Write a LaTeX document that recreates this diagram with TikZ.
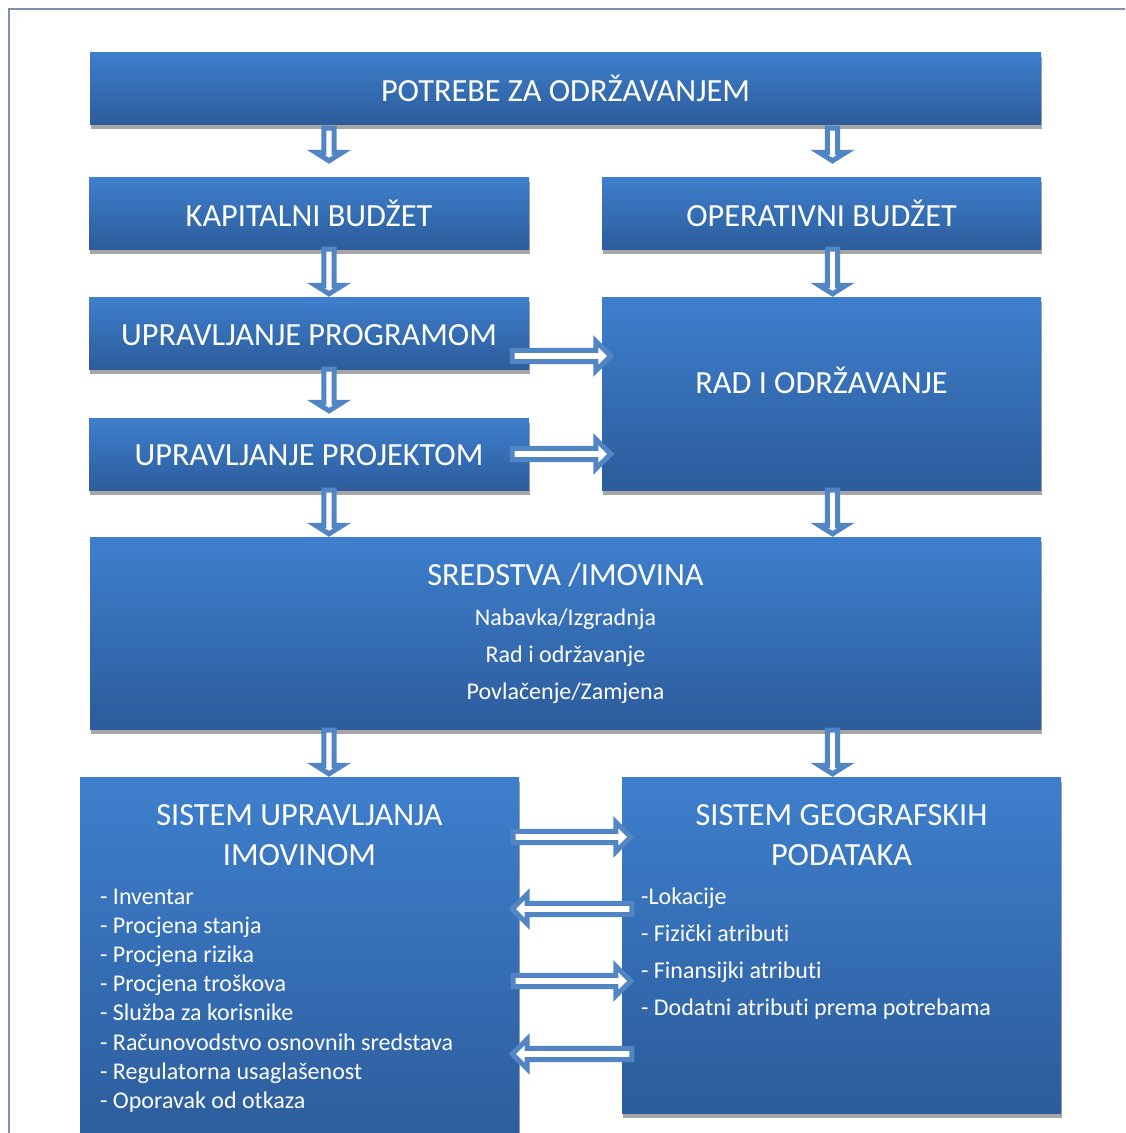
\documentclass[tikz,border=0pt]{standalone}
\usepackage{fontspec}
\setmainfont{Carlito}[RawFeature={-liga;-clig;-calt;-dlig}]
\usetikzlibrary{calc}
\definecolor{boxtop}{RGB}{62,127,205}
\definecolor{boxbot}{RGB}{44,92,155}
\definecolor{shadowgray}{RGB}{166,166,166}
\definecolor{arrowblue}{RGB}{82,133,196}
\definecolor{framegray}{RGB}{128,143,168}
\def\BAw{5.2pt}\def\BAH{13.5pt}\def\BAh{8.5pt}
\begin{document}
\begin{tikzpicture}[x=1pt, y=-1pt,
  box/.style={rectangle, draw=none, inner sep=0pt, top color=boxtop, bottom color=boxbot,
    preaction={fill=shadowgray, transform canvas={xshift=1pt, yshift=-5pt}}},
  ttl/.style={text=white, inner sep=0pt, font=\fontsize{32.3}{38}\selectfont, anchor=base},
  sub/.style={text=white, inner sep=0pt, font=\fontsize{24}{29}\selectfont, anchor=base},
  itm/.style={sub, anchor=base west},
  vhead/.code={\def\BAw{5.2pt}\def\BAH{13.5pt}\def\BAh{8.5pt}},
  hhead/.code={\def\BAw{5.6pt}\def\BAH{14.8pt}\def\BAh{15pt}},
  barrow/.style 2 args={draw=arrowblue, line width=5pt, fill=white, line join=miter,
    to path={
      ($(\tikztostart)!#1!(\tikztotarget)$) coordinate (baS)
      ($(\tikztotarget)!#2!(\tikztostart)$) coordinate (baT)
      ($(baT)!\BAh!(baS)$) coordinate (baB)
      ($(baS)!\BAw!90:(baT)$) -- ($(baB)!\BAw!-90:(baS)$) -- ($(baB)!\BAH!-90:(baS)$)
      -- (baT) -- ($(baB)!\BAH!90:(baS)$) -- ($(baB)!\BAw!90:(baS)$)
      -- ($(baS)!\BAw!-90:(baT)$) -- cycle}}]
\useasboundingbox (0,0) rectangle (1125,1133);
\clip (0,0) rectangle (1125,1133);
\fill[white] (0,0) rectangle (1125,1133);
\draw[framegray, line width=2pt] (8.5,1140) -- (8.5,8.5) -- (1130,8.5);

% boxes
\node[box, minimum width=951pt, minimum height=72pt] (top) at (565.5,88) {};
\node[box, minimum width=440pt, minimum height=72pt] (kap) at (309,213) {};
\node[box, minimum width=439pt, minimum height=72pt] (oper) at (821.5,213) {};
\node[box, minimum width=440pt, minimum height=72pt] (prog) at (309,333) {};
\node[box, minimum width=439pt, minimum height=193pt] (rad) at (821.5,393.5) {};
\node[box, minimum width=440pt, minimum height=72pt] (proj) at (309,454) {};
\node[box, minimum width=951pt, minimum height=192pt] (sred) at (565.5,633) {};
\node[box, minimum width=439pt, minimum height=373pt] (sum) at (299.5,963.5) {};
\node[box, minimum width=439pt, minimum height=336pt] (sgp) at (841.5,945) {};

% texts
\node[ttl] (t0) at (565.5,101) {POTREBE ZA ODRŽAVANJEM};
\node[ttl] (t1) at (309,226) {KAPITALNI BUDŽET};
\node[ttl] (t2) at (821.5,226) {OPERATIVNI BUDŽET};
\node[ttl] (t3) at (309,345) {UPRAVLJANJE PROGRAMOM};
\node[ttl] (t4) at (821.5,393) {RAD I ODRŽAVANJE};
\node[ttl] (t5) at (309,465) {UPRAVLJANJE PROJEKTOM};
\node[ttl] (t6) at (565.5,585) {SREDSTVA /IMOVINA};
\node[sub] (s1) at (565.5,625) {Nabavka/Izgradnja};
\node[sub] (s2) at (565.5,662) {Rad i održavanje};
\node[sub] (s3) at (565.5,699) {Povlačenje/Zamjena};
\node[ttl] (t7) at (299.5,825) {SISTEM UPRAVLJANJA};
\node[ttl] (t8) at (299.5,865) {IMOVINOM};
\node[ttl] (t9) at (841.5,825) {SISTEM GEOGRAFSKIH};
\node[ttl] (t10) at (841.5,865) {PODATAKA};
\node[itm] (l1) at (100,904) {- Inventar};
\node[itm] (l2) at (100,933.2) {- Procjena stanja};
\node[itm] (l3) at (100,962.4) {- Procjena rizika};
\node[itm] (l4) at (100,991.6) {- Procjena troškova};
\node[itm] (l5) at (100,1020.8) {- Služba za korisnike};
\node[itm] (l6) at (100,1050) {- Računovodstvo osnovnih sredstava};
\node[itm] (l7) at (100,1079.2) {- Regulatorna usaglašenost};
\node[itm] (l8) at (100,1108.4) {- Oporavak od otkaza};
\node[itm] (r1) at (641,904) {-Lokacije};
\node[itm] (r2) at (641,941) {- Fizički atributi};
\node[itm] (r3) at (641,978) {- Finansijki atributi};
\node[itm] (r4) at (641,1015) {- Dodatni atributi prema potrebama};

% helper coordinates
\coordinate (cl) at (329,0);
\coordinate (cr) at (832.5,0);
\coordinate (h1) at (0,356);
\coordinate (b1) at (0,837);
\coordinate (b2) at (0,909);
\coordinate (b3) at (0,981);
\coordinate (b4) at (0,1054);

% vertical arrows
\draw[vhead, barrow={4pt}{16pt}] (cl |- top.south) to (cl |- kap.north);
\draw[vhead, barrow={4pt}{16pt}] (cr |- top.south) to (cr |- oper.north);
\draw[vhead, barrow={0pt}{3pt}] (cl |- kap.south) to (cl |- prog.north);
\draw[vhead, barrow={0pt}{3pt}] (cr |- oper.south) to (cr |- rad.north);
\draw[vhead, barrow={0pt}{7pt}] (cl |- prog.south) to (cl |- proj.north);
\draw[vhead, barrow={0pt}{3pt}] (cl |- proj.south) to (cl |- sred.north);
\draw[vhead, barrow={0pt}{3pt}] (cr |- rad.south) to (cr |- sred.north);
\draw[vhead, barrow={1pt}{3pt}] (cl |- sred.south) to (cl |- sum.north);
\draw[vhead, barrow={1pt}{3pt}] (cr |- sred.south) to (cr |- sgp.north);

% horizontal arrows
\draw[hhead, barrow={-17pt}{-9pt}] (prog.east |- h1) to (rad.west |- h1);
\draw[hhead, barrow={-17pt}{-9pt}] (proj.east) to (rad.west |- proj.east);
\draw[hhead, barrow={-6pt}{-9pt}] (sum.east |- b1) to (sgp.west |- b1);
\draw[hhead, barrow={-10pt}{-7pt}] (sgp.west |- b2) to (sum.east |- b2);
\draw[hhead, barrow={-6pt}{-9pt}] (sum.east |- b3) to (sgp.west |- b3);
\draw[hhead, barrow={-10pt}{-7pt}] (sgp.west |- b4) to (sum.east |- b4);
\end{tikzpicture}
\end{document}
